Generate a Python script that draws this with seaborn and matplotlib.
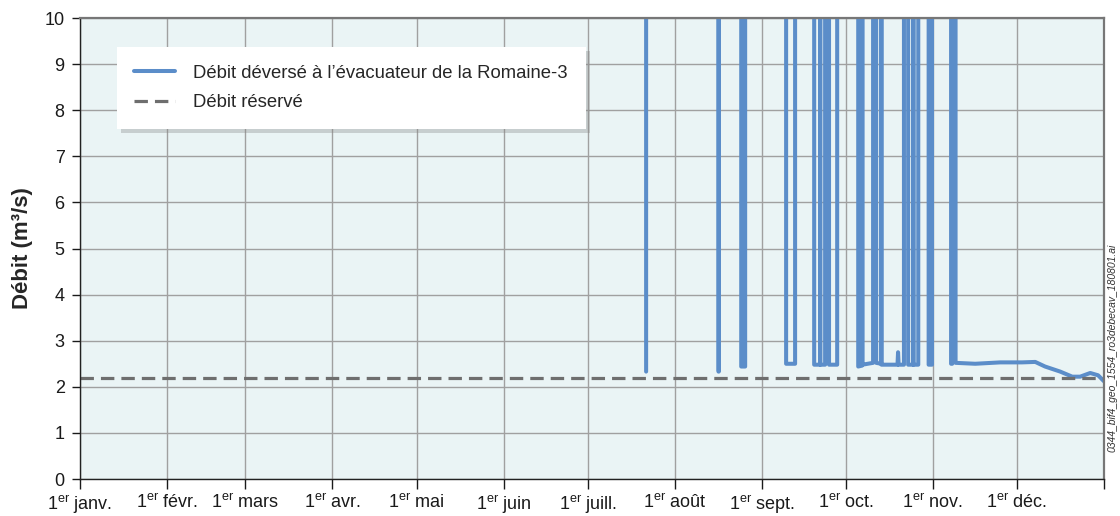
import numpy as np
import pandas as pd
import matplotlib
matplotlib.use("Agg")
import matplotlib.pyplot as plt
import seaborn as sns

# --- data (jours depuis le 1er janvier 2018, débit en m3/s) ---
# les valeurs 14 représentent les déversements hors échelle (> 10 m3/s)
jour_deverse = [
    201.8, 201.8,
    227.6, 227.6, 227.7, 227.7,
    235.7, 235.7, 237.1, 237.1,
    251.7, 251.7, 254.9, 254.9,
    261.7, 261.7, 263.8, 263.8, 263.9, 263.9, 265.6, 265.6, 267.0, 267.0, 269.9, 269.9,
    277.4, 277.4, 278.8, 278.8, 278.9, 278.9, 282.7, 282.7, 283.8, 283.8,
    285.6, 285.6, 285.7, 285.7, 291.4, 291.6, 291.8, 293.7, 293.7, 295.2, 295.2,
    297.0, 297.0, 297.1, 297.1, 298.8, 298.8, 302.5, 302.5, 303.7, 303.7,
    310.5, 310.5, 310.9, 310.9, 312.1, 312.1,
    319.1, 328.0, 335.8, 340.5, 344.0, 349.4, 353.7, 356.5, 360.1, 362.9, 365.0,
]
debit_deverse = [
    2.33, 14,
    14, 2.33, 2.33, 14,
    14, 2.44, 2.44, 14,
    14, 2.50, 2.50, 14,
    14, 2.48, 2.48, 14, 14, 2.48, 2.48, 14, 14, 2.48, 2.48, 14,
    14, 2.44, 2.46, 14, 14, 2.48, 2.52, 14, 14, 2.52,
    2.50, 14, 14, 2.48, 2.48, 2.75, 2.48, 2.48, 14, 14, 2.48,
    2.48, 14, 14, 2.48, 2.48, 14, 14, 2.48, 2.48, 14,
    14, 2.50, 2.50, 14, 14, 2.52,
    2.50, 2.53, 2.53, 2.54, 2.44, 2.33, 2.22, 2.22, 2.30, 2.25, 2.12,
]
jour_reserve = [0, 365]
debit_reserve = [2.2, 2.2]

mois = ["janv.", "févr.", "mars", "avr.", "mai", "juin",
        "juill.", "août", "sept.", "oct.", "nov.", "déc."]

debut = pd.Timestamp("2018-01-01")
df = pd.DataFrame({"date": debut + pd.to_timedelta(jour_deverse, unit="D"),
                   "debit": debit_deverse})
df_res = pd.DataFrame({"date": debut + pd.to_timedelta(jour_reserve, unit="D"),
                       "debit": debit_reserve})

sns.set_theme(style="whitegrid")
plt.rcParams["font.family"] = ["Liberation Sans", "DejaVu Sans"]
plt.rcParams["mathtext.fontset"] = "custom"
plt.rcParams["mathtext.rm"] = "Liberation Sans"

fig = plt.figure(figsize=(11.2, 5.16), dpi=100)
ax = fig.add_axes([0.0714, 0.0717, 0.9143, 0.8933])
ax.set_facecolor("#EAF4F5")

bleu = "#5B8DC9"
sns.lineplot(data=df, x="date", y="debit", estimator=None, sort=False,
             color=bleu, lw=2.9, ax=ax,
             label="Débit déversé à l\u2019évacuateur de la Romaine-3")
sns.lineplot(data=df_res, x="date", y="debit", estimator=None, sort=False,
             color="#6E6E6E", lw=2.3, linestyle=(0, (4.2, 2.2)), ax=ax,
             label="Débit réservé")

ax.set_ylim(0, 10)
ax.set_xlim(debut, debut + pd.Timedelta(days=365))
ax.set_yticks(range(0, 11))

ticks = list(pd.date_range("2018-01-01", periods=13, freq="MS"))
ax.set_xticks(ticks)
ax.set_xticklabels([r"1$^{\mathregular{er}}$ " + m for m in mois] + [""])

ax.grid(True, color="#A0A0A0", lw=1.0)
ax.tick_params(axis="both", which="major", labelsize=13, colors="#1a1a1a",
               length=6, width=1, direction="out", bottom=True, left=True)
ax.tick_params(axis="x", pad=3, length=7)
ax.tick_params(axis="y", pad=5)

for side in ["left", "bottom"]:
    ax.spines[side].set_color("#222222")
    ax.spines[side].set_linewidth(1.0)
for side in ["top", "right"]:
    ax.spines[side].set_color("#777777")
    ax.spines[side].set_linewidth(1.6)

ax.set_xlabel("")
ax.set_ylabel("Débit (m³/s)", fontsize=16, fontweight="bold", labelpad=8)

leg = ax.legend(loc="upper left", bbox_to_anchor=(0.036, 0.937), borderaxespad=0,
                fontsize=13.3, frameon=True, fancybox=False, framealpha=1,
                borderpad=0.95, handlelength=2.2, handletextpad=1.0, labelspacing=0.68,
                shadow={"ox": 3, "oy": -3, "facecolor": "#888888",
                        "edgecolor": "none", "alpha": 0.35})
leg.get_frame().set_facecolor("white")
leg.get_frame().set_edgecolor("none")

fig.text(0.9935, 0.125, "0344_bif4_geo_1554_ro3debecav_180801.ai", rotation=90,
         rotation_mode="anchor", fontsize=7.5, style="italic",
         ha="left", va="center", color="#333333")

fig.savefig("out.png", dpi=100)
